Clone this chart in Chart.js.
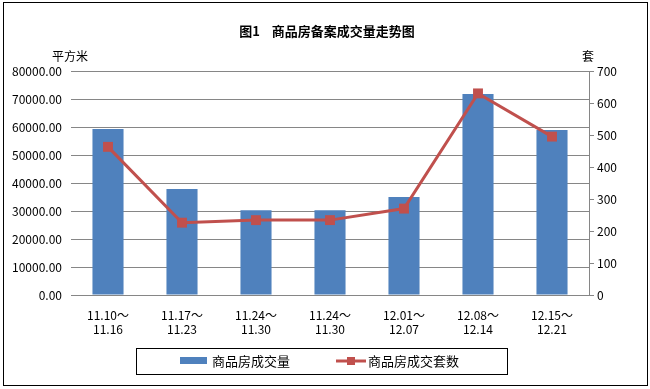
<!DOCTYPE html>
<html>
<head>
<meta charset="utf-8">
<script src="https://cdn.jsdelivr.net/npm/chart.js@4"></script>
<style>
    html, body { margin: 0; padding: 0; background: #fff; }
    #box { width: 650px; height: 389px; }
</style>
</head>
<body>
<div id="box"><canvas id="houseChart" width="650" height="389"></canvas></div>
<script>
var weeks = [["11.10～", "11.16"], ["11.17～", "11.23"], ["11.24～", "11.30"], ["11.24～", "11.30"],
             ["12.01～", "12.07"], ["12.08～", "12.14"], ["12.15～", "12.21"]];
var areaSold = [59300, 37900, 30300, 30300, 35000, 71800, 58900];   // 平方米
var unitsSold = [463, 226, 234, 234, 270, 630, 495];               // 套
var leftTicks = [0, 10000, 20000, 30000, 40000, 50000, 60000, 70000, 80000];
var rightTicks = [0, 100, 200, 300, 400, 500, 600, 700];

var FONT = "'Noto Sans CJK SC', 'DejaVu Sans', sans-serif";
var BLUE = "#4F81BD";
var RED = "#C0504D";
var GRID = "#868686";

// 标题、轴标题、图例和外框
var decor = {
    id: "decor",
    beforeDraw: function (chart) {
        var c = chart.ctx;
        c.save();
        c.fillStyle = "#fff";
        c.fillRect(0, 0, chart.width, chart.height);
        c.restore();
    },
    afterDraw: function (chart) {
        var c = chart.ctx;
        c.save();
        c.strokeStyle = "#000";
        c.lineWidth = 1;
        c.strokeRect(3.5, 2.5, 644, 383);

        c.fillStyle = "#000";
        c.textBaseline = "middle";
        c.textAlign = "center";
        c.font = "bold 13px " + FONT;
        c.fillText("图1    商品房备案成交量走势图", 327, 31);

        c.font = "12px " + FONT;
        c.fillText("平方米", 70, 56);
        c.fillText("套", 588, 56);

        // 图例
        c.strokeRect(136.5, 348.5, 371, 26);
        c.fillStyle = BLUE;
        c.fillRect(180, 357, 27, 7);
        c.strokeStyle = RED;
        c.lineWidth = 3;
        c.beginPath();
        c.moveTo(336, 361);
        c.lineTo(366, 361);
        c.stroke();
        c.fillStyle = RED;
        c.fillRect(347, 357, 8, 8);
        c.fillStyle = "#000";
        c.textAlign = "left";
        c.font = "13px " + FONT;
        c.fillText("商品房成交量", 212, 361);
        c.fillText("商品房成交套数", 368, 361);
        c.restore();
    }
};

new Chart(document.getElementById("houseChart").getContext("2d"), {
    data: {
        labels: weeks,
        datasets: [{
            type: "line",
            label: "商品房成交套数",
            data: unitsSold,
            yAxisID: "y1",
            borderColor: RED,
            backgroundColor: RED,
            borderWidth: 3,
            pointStyle: "rect",
            pointRadius: 7,
            pointBorderWidth: 0,
            tension: 0,
            order: 0
        }, {
            type: "bar",
            label: "商品房成交量",
            data: areaSold,
            yAxisID: "y",
            backgroundColor: BLUE,
            barPercentage: 0.42,
            categoryPercentage: 1,
            order: 1
        }]
    },
    options: {
        responsive: false,
        animation: false,
        layout: { padding: { top: 71, left: 0, right: 0, bottom: 54 } },
        plugins: {
            legend: { display: false },
            title: { display: false },
            tooltip: { enabled: false }
        },
        scales: {
            x: {
                grid: { display: false },
                border: { color: GRID },
                ticks: { color: "#000", font: { family: FONT, size: 12 }, padding: 5, maxRotation: 0 },
                afterFit: function (s) { s.height = 40; }
            },
            y: {
                position: "left",
                min: 0,
                max: 80000,
                afterBuildTicks: function (s) { s.ticks = leftTicks.map(function (v) { return { value: v }; }); },
                grid: { color: GRID, drawTicks: false },
                border: { display: false },
                ticks: {
                    color: "#000",
                    font: { family: FONT, size: 12 },
                    padding: 9,
                    callback: function (v) { return Number(v).toFixed(2); }
                },
                afterFit: function (s) { s.width = 71; }
            },
            y1: {
                position: "right",
                min: 0,
                max: 700,
                afterBuildTicks: function (s) { s.ticks = rightTicks.map(function (v) { return { value: v }; }); },
                grid: { drawOnChartArea: false, color: GRID, tickLength: 5 },
                border: { color: GRID },
                ticks: { color: "#000", font: { family: FONT, size: 12 }, padding: 3 },
                afterFit: function (s) { s.width = 61; }
            }
        }
    },
    plugins: [decor]
});
</script>
</body>
</html>
